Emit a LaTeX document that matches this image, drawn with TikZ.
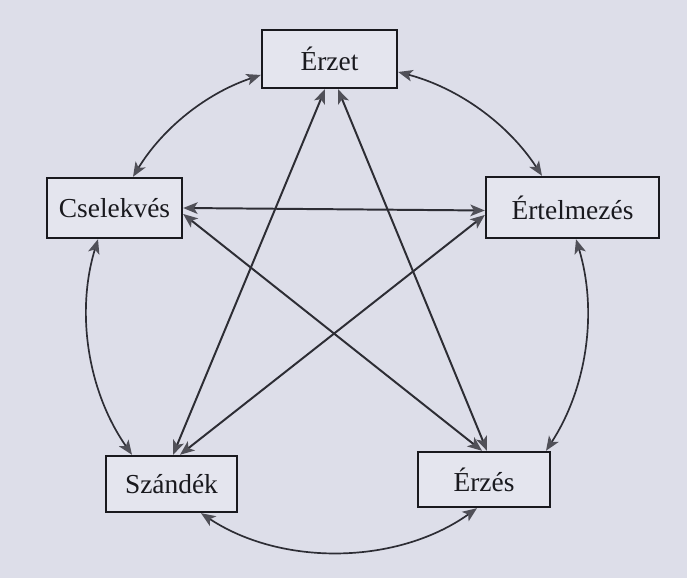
\documentclass[tikz,border=0pt]{standalone}
\usepackage{fontspec}
\setmainfont{Liberation Serif}
\usetikzlibrary{arrows.meta,calc}
\definecolor{bgcol}{RGB}{221,222,233}
\definecolor{boxcol}{RGB}{228,229,238}
\definecolor{linecol}{RGB}{45,45,52}
\definecolor{headcol}{RGB}{80,80,88}
\definecolor{txtcol}{RGB}{25,25,30}
\begin{document}
\begin{tikzpicture}[x=0.025cm,y=0.025cm,
  box/.style={draw=txtcol, line width=1.7pt, fill=boxcol, text=txtcol,
    inner sep=0pt, font=\fontsize{19.5}{23}\selectfont},
  link/.style={draw=linecol, line width=1.4pt, {Stealth[length=0.36cm,width=0.29cm,inset=0.09cm,fill=headcol,color=headcol]}-{Stealth[length=0.36cm,width=0.29cm,inset=0.09cm,fill=headcol,color=headcol]}},
  arcl/.style={link, line width=1.2pt, looseness=0.9}]
\fill[bgcol] (0,0) rectangle (687,578);
\useasboundingbox (0,0) rectangle (687,578);

\node[box, minimum width=135*0.025cm, minimum height=58*0.025cm] (erzet) at (329.5,519) {Érzet};
\node[box, minimum width=135*0.025cm, minimum height=60*0.025cm] (csel) at (114.5,370) {Cselekvés};
\node[box, minimum width=173*0.025cm, minimum height=61*0.025cm] (ertel) at (572.5,370.5) {Értelmezés};
\node[box, minimum width=131*0.025cm, minimum height=56*0.025cm] (szandek) at (171.5,94) {Szándék};
\node[box, minimum width=132*0.025cm, minimum height=55*0.025cm] (erzes) at (484,98.5) {Érzés};

% pentagram
\draw[link] ($(erzet.south)+(-4.5,0)$) -- ($(szandek.north)+(1.5,0)$);
\draw[link] ($(erzet.south)+(8.5,0)$) -- ($(erzes.north)+(3,0)$);
\draw[link] (csel.east) -- ($(ertel.west)+(0,-3)$);
\draw[link] ($(csel.east)+(0,-6)$) -- ($(erzes.north)+(-2,0)$);
\draw[link] ($(ertel.west)+(0,-7.5)$) -- ($(szandek.north)+(8.5,0)$);

% outer circle
\draw[arcl] ($(erzet.west)+(0,-16)$) to[bend right=20] ($(csel.north)+(18.5,0)$);
\draw[arcl] ($(ertel.north)+(-30.5,0)$) to[bend right=21] ($(erzet.east)+(0,-13)$);
\draw[arcl] ($(csel.south)+(-16.5,0)$) to[bend right=26] ($(szandek.north)+(-39.5,0)$);
\draw[arcl] ($(erzes.north)+(62,0)$) to[bend right=25] ($(ertel.south)+(3.5,0)$);
\draw[arcl] ($(szandek.south)+(29.5,0)$) to[bend right=34.5] ($(erzes.south)+(-7,0)$);
\end{tikzpicture}
\end{document}
